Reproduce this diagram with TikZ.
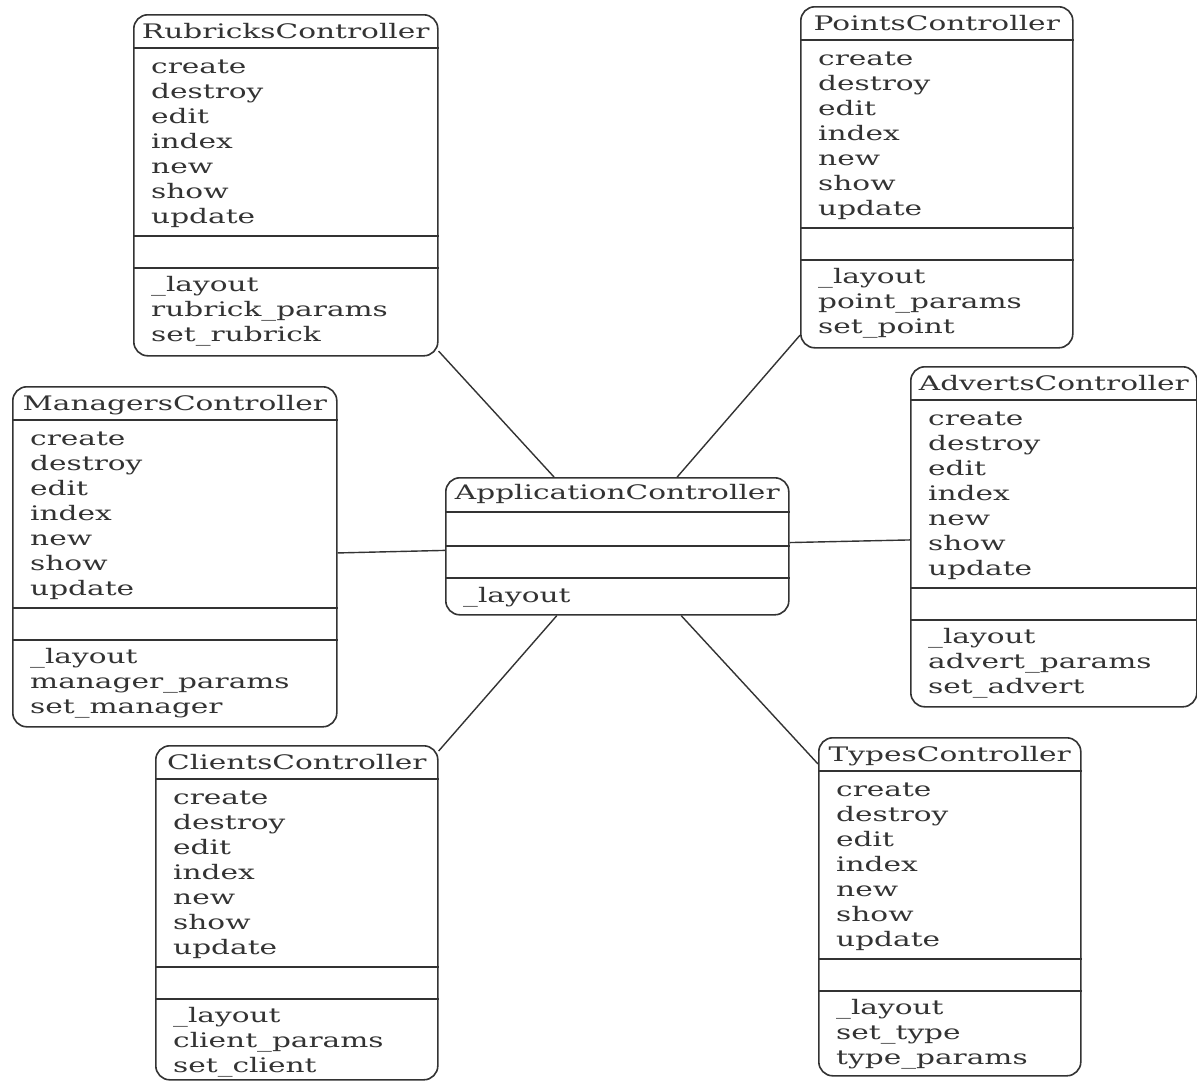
\documentclass[tikz,border=0pt]{standalone}
\usepackage{fontspec}
\setmainfont{DejaVu Serif}[FakeStretch=1.48]
\usetikzlibrary{calc}
\tikzset{>=stealth}
\tikzset{
  ctrl/.style={draw=black!80, line width=1.6pt, rounded corners=14pt, inner sep=0pt},
  sepline/.style={draw=black!80, line width=1.6pt},
  link/.style={draw=black!80, line width=1.4pt},
  ctitle/.style={anchor=base, inner sep=0pt, text=black!80, font=\fontsize{20}{25}\selectfont},
  meth/.style={anchor=base west, inner sep=0pt, text=black!80, font=\fontsize{20}{25}\selectfont}
}
% one controller box: name, left, top, width, height, title, private methods
\newcommand{\ctrlbox}[7]{%
  \node[ctrl, minimum width=#4, minimum height=#5, anchor=north west] (#1) at (#2,#3) {};
  \draw[sepline] ([yshift=-34pt]#1.north west) -- ([yshift=-34pt]#1.north east);
  \draw[sepline] ([yshift=-222pt]#1.north west) -- ([yshift=-222pt]#1.north east);
  \draw[sepline] ([yshift=-254pt]#1.north west) -- ([yshift=-254pt]#1.north east);
  \node[ctitle] (#1-t) at ([yshift=-24pt]#1.north) {#6};
  \foreach \m [count=\i from 0] in {create,destroy,edit,index,new,show,update}
    \node[meth] (#1-m\i) at ([xshift=18pt,yshift={-(59+25*\i)*1pt}]#1.north west) {\m};
  \foreach \p [count=\i from 0] in {#7}
    \node[meth] (#1-p\i) at ([xshift=18pt,yshift={-(277+25*\i)*1pt}]#1.north west) {\p};
}

\begin{document}
\begin{tikzpicture}[x=1pt, y=-1pt]
\useasboundingbox[fill=white] (0,0) rectangle (1197,1082);

% the base controller
\node[ctrl, minimum width=343, minimum height=137, anchor=north west] (app) at (445,477) {};
\draw[sepline] ([yshift=-35pt]app.north west) -- ([yshift=-35pt]app.north east);
\draw[sepline] ([yshift=-69pt]app.north west) -- ([yshift=-69pt]app.north east);
\draw[sepline] ([yshift=-101pt]app.north west) -- ([yshift=-101pt]app.north east);
\node[ctitle] (app-t) at ([yshift=-22pt]app.north) {ApplicationController};
\node[meth] (app-p0) at ([xshift=18pt,yshift=-125pt]app.north west) {\_layout};

% the six controllers round it
\ctrlbox{rub}{133}{14}{304}{341}{RubricksController}{\_layout,rubrick\_params,set\_rubrick}
\ctrlbox{pnt}{800}{6}{272}{341}{PointsController}{\_layout,point\_params,set\_point}
\ctrlbox{mgr}{12}{386}{324}{340}{ManagersController}{\_layout,manager\_params,set\_manager}
\ctrlbox{adv}{910}{366}{286}{340}{AdvertsController}{\_layout,advert\_params,set\_advert}
\ctrlbox{cli}{155}{745}{282}{334}{ClientsController}{\_layout,client\_params,set\_client}
\ctrlbox{typ}{818}{737}{262}{338}{TypesController}{\_layout,set\_type,type\_params}

% inheritance links
\draw[link] (app) -- (rub);
\draw[link] (app) -- (pnt);
\draw[link] (app) -- (mgr);
\draw[link] (app) -- (adv);
\draw[link] (app) -- (cli);
\draw[link] (app) -- (typ);
\end{tikzpicture}
\end{document}
